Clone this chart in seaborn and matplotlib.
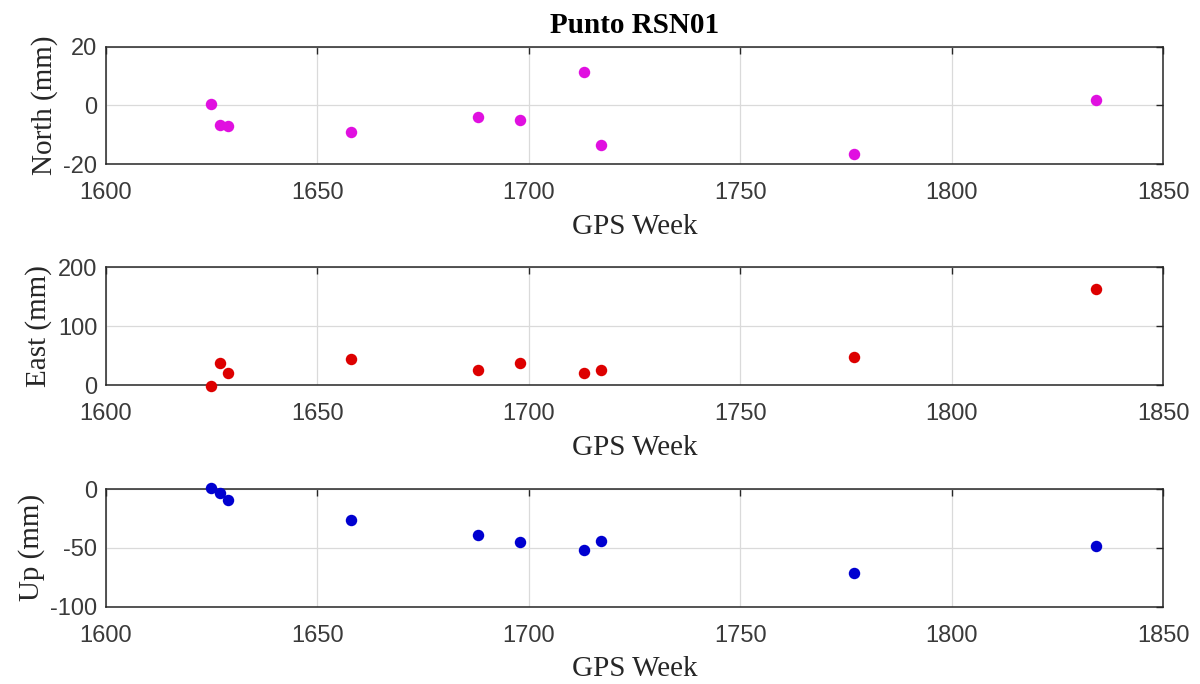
import numpy as np
import pandas as pd
import matplotlib
matplotlib.use("Agg")
import matplotlib.pyplot as plt
import seaborn as sns

# ---- data ----
gps_weeks = [1625, 1627, 1629, 1658, 1688, 1698, 1713, 1717, 1777, 1834]
north_mm = [0.4, -6.5, -7.0, -9.0, -3.8, -4.8, 11.4, -13.3, -16.6, 1.9]
east_mm = [-1.0, 37.5, 20.0, 44.0, 25.0, 37.5, 20.5, 26.0, 47.0, 164.0]
up_mm = [1.0, -3.6, -9.5, -26.6, -39.2, -45.2, -51.4, -44.3, -71.1, -48.0]

panel_ylabels = ["North (mm)", "East (mm)", "Up (mm)"]
x_label = "GPS Week"
title_text = "Punto RSN01"
x_ticks = [1600, 1650, 1700, 1750, 1800, 1850]
north_ticks = [-20, 0, 20]
east_ticks = [0, 100, 200]
up_ticks = [-100, -50, 0]

# ---- styling ----
sns.set_theme(style="white")
plt.rcParams["font.family"] = ["Liberation Sans", "DejaVu Sans"]
plt.rcParams["axes.unicode_minus"] = False

serif = ["Liberation Serif", "DejaVu Serif"]
colors = ["#e010e0", "#dd0000", "#0000d0"]
series = [north_mm, east_mm, up_mm]
yticks = [north_ticks, east_ticks, up_ticks]

fig = plt.figure(figsize=(12, 6.84), dpi=100)
left, width, height = 0.0881, 0.8813, 0.172
bottoms = [0.7598, 0.4371, 0.1130]

for i in range(3):
    ax = fig.add_axes([left, bottoms[i], width, height])
    df = pd.DataFrame({"week": gps_weeks, "value": series[i]})
    sns.scatterplot(data=df, x="week", y="value", ax=ax, color=colors[i],
                    s=68, edgecolor=colors[i], linewidth=0,
                    clip_on=False, zorder=3, legend=False)
    ax.set_xlim(x_ticks[0], x_ticks[-1])
    ax.set_ylim(yticks[i][0], yticks[i][-1])
    ax.set_xticks(x_ticks)
    ax.set_yticks(yticks[i])
    ax.grid(True, color="#dadada", linewidth=0.9)
    ax.set_axisbelow(True)
    ax.tick_params(direction="in", top=True, right=True, length=5, width=1,
                   colors="#262626", labelcolor="#3a3a3a", labelsize=17)
    ax.tick_params(axis="x", pad=13)
    ax.tick_params(axis="y", pad=6)
    for sp in ax.spines.values():
        sp.set_color("#262626")
        sp.set_linewidth(1.1)
    ax.set_xlabel(x_label, fontfamily=serif, fontsize=21, color="#262626", labelpad=7)
    ax.set_ylabel(panel_ylabels[i], fontfamily=serif, fontsize=21, color="#262626", labelpad=4)
    if i == 0:
        ax.set_title(title_text, fontfamily=serif, fontsize=21, fontweight="bold",
                     color="black", pad=10)

fig.savefig("out.png", dpi=100, facecolor="white")
